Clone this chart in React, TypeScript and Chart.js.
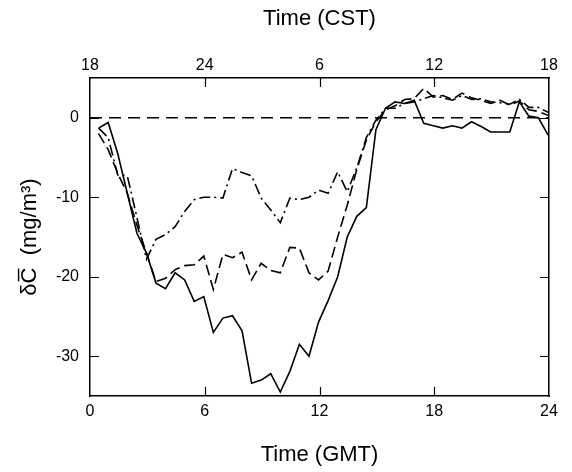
import React, { useEffect, useRef } from "react";
import { Chart, registerables } from "chart.js";

Chart.register(...registerables);

// Time (GMT, hours) of each sample
const times: number[] = [
  0.45, 0.95, 1.45, 1.95, 2.45, 2.95, 3.45, 3.95, 4.45, 4.95, 5.45, 5.95,
  6.45, 6.95, 7.45, 7.95, 8.45, 8.95, 9.45, 9.95, 10.45, 10.95, 11.45, 11.95,
  12.45, 12.95, 13.45, 13.95, 14.45, 14.95, 15.45, 15.95, 16.45, 16.95, 17.45, 17.95,
  18.45, 18.95, 19.45, 19.95, 20.45, 20.95, 21.45, 21.95, 22.45, 22.95, 23.45, 23.95,
];

const solidSeries: number[] = [
  -1.3, -0.6, -4.5, -9.5, -14.5, -17.0, -20.8, -21.5, -19.5, -20.4, -23.1, -22.5,
  -27.0, -25.2, -24.9, -26.8, -33.4, -33.0, -32.2, -34.5, -31.9, -28.5, -30.0, -25.7,
  -23.0, -20.0, -15.0, -12.4, -11.3, -1.5, 1.2, 2.0, 1.8, 2.2, -0.7, -1.0,
  -1.3, -1.0, -1.3, -0.5, -1.1, -1.8, -1.8, -1.8, 2.0, 0.2, 0.0, -2.2,
];

const dashedSeries: number[] = [
  -2.0, -4.0, -7.0, -9.5, -13.5, -17.0, -20.6, -20.2, -19.1, -18.6, -18.5, -17.4,
  -21.6, -17.2, -17.6, -16.9, -20.4, -18.3, -19.2, -19.5, -16.3, -16.4, -19.5, -20.4,
  -19.3, -15.0, -11.0, -6.5, -2.8, -0.5, 1.0, 1.5, 2.3, 2.4, 3.7, 2.6,
  2.8, 2.3, 3.1, 2.5, 2.2, 1.8, 2.2, 1.6, 2.1, 1.0, 0.8, 0.3,
];

const dashDotSeries: number[] = [
  -1.3, -2.5, -7.2, -7.3, -12.5, -17.8, -15.3, -14.7, -13.7, -11.8, -10.3, -10.0,
  -10.0, -10.1, -6.4, -6.9, -7.3, -10.1, -11.6, -13.2, -10.1, -10.3, -10.0, -9.1,
  -9.5, -6.8, -9.3, -6.3, -2.5, -0.3, 1.2, 1.2, 1.8, 2.0, 2.4, 2.8,
  2.5, 2.2, 2.8, 2.3, 2.4, 2.0, 1.9, 1.7, 2.3, 1.3, 1.3, 0.7,
];

const zeroLineX: number[] = [0, 24];
const zeroLineY: number[] = [0, 0];

const gmtTicks: number[] = [0, 6, 12, 18, 24];
const cstTickLabels: string[] = ["18", "24", "6", "12", "18"];
const yTicks: number[] = [-30, -20, -10, 0];

const FONT = "'Liberation Sans', Arial, Helvetica, sans-serif";

const toPoints = (xs: number[], ys: number[]) => xs.map((x, i) => ({ x, y: ys[i] }));

const inwardTicks = {
  id: "inwardTicks",
  afterDraw(chart: any) {
    const { ctx, chartArea } = chart;
    const xs = chart.scales.x;
    const ys = chart.scales.y;
    const len = 9;
    ctx.save();
    ctx.strokeStyle = "#000";
    ctx.lineWidth = 1.2;
    ctx.beginPath();
    gmtTicks.forEach((v) => {
      if (v <= xs.min || v >= xs.max) return;
      const px = Math.round(xs.getPixelForValue(v)) + 0.5;
      ctx.moveTo(px, chartArea.bottom);
      ctx.lineTo(px, chartArea.bottom - len);
      ctx.moveTo(px, chartArea.top);
      ctx.lineTo(px, chartArea.top + len);
    });
    yTicks.forEach((v) => {
      const py = Math.round(ys.getPixelForValue(v)) + 0.5;
      ctx.moveTo(chartArea.left, py);
      ctx.lineTo(chartArea.left + len, py);
      ctx.moveTo(chartArea.right, py);
      ctx.lineTo(chartArea.right - len, py);
    });
    ctx.stroke();
    ctx.restore();
  },
};

export default function App() {
  const ref = useRef<HTMLCanvasElement | null>(null);

  useEffect(() => {
    if (!ref.current) return;
    const border = { display: true, color: "#000", width: 1.5 };
    const tickFont = { family: FONT, size: 16 };
    const titleFont = { family: FONT, size: 22 };
    const chart = new Chart(ref.current, {
      type: "line",
      data: {
        datasets: [
          {
            data: toPoints(zeroLineX, zeroLineY),
            borderColor: "#000",
            borderWidth: 1.5,
            borderDash: [12, 7],
            pointRadius: 0,
            tension: 0,
          },
          {
            data: toPoints(times, solidSeries),
            borderColor: "#000",
            borderWidth: 1.6,
            pointRadius: 0,
            tension: 0,
          },
          {
            data: toPoints(times, dashedSeries),
            borderColor: "#000",
            borderWidth: 1.6,
            borderDash: [11, 5],
            pointRadius: 0,
            tension: 0,
          },
          {
            data: toPoints(times, dashDotSeries),
            borderColor: "#000",
            borderWidth: 1.6,
            borderDash: [11, 4, 2, 4],
            pointRadius: 0,
            tension: 0,
          },
        ],
      },
      options: {
        responsive: false,
        animation: false,
        devicePixelRatio: 1,
        layout: { padding: 0 },
        plugins: { legend: { display: false }, tooltip: { enabled: false } },
        scales: {
          x: {
            type: "linear",
            position: "bottom",
            min: 0,
            max: 24,
            afterBuildTicks: (s: any) => {
              s.ticks = gmtTicks.map((v) => ({ value: v }));
            },
            afterFit: (s: any) => {
              s.height = 76;
            },
            grid: { display: false, drawTicks: false },
            border,
            ticks: { color: "#000", font: tickFont, padding: 6, maxRotation: 0, autoSkip: false },
            title: {
              display: true,
              text: "Time (GMT)",
              color: "#000",
              font: titleFont,
              padding: { top: 0, bottom: 4 },
            },
          },
          x2: {
            type: "linear",
            position: "top",
            min: 0,
            max: 24,
            afterBuildTicks: (s: any) => {
              s.ticks = gmtTicks.map((v) => ({ value: v }));
            },
            afterFit: (s: any) => {
              s.height = 78;
            },
            grid: { display: false, drawTicks: false },
            border,
            ticks: {
              color: "#000",
              font: tickFont,
              padding: 3,
              maxRotation: 0,
              autoSkip: false,
              callback: (_v: any, i: number) => cstTickLabels[i],
            },
            title: {
              display: true,
              text: "Time (CST)",
              color: "#000",
              font: titleFont,
              padding: { top: 6, bottom: 0 },
            },
          },
          y: {
            type: "linear",
            position: "left",
            min: -35,
            max: 5,
            afterBuildTicks: (s: any) => {
              s.ticks = yTicks.map((v) => ({ value: v }));
            },
            afterFit: (s: any) => {
              s.width = 90;
            },
            grid: { display: false, drawTicks: false },
            border,
            ticks: { color: "#000", font: tickFont, padding: 11 },
            title: {
              display: true,
              text: "δC\u0305  (mg/m³)",
              color: "#000",
              font: titleFont,
              padding: { top: 17, bottom: 0 },
            },
          },
          y2: {
            type: "linear",
            position: "right",
            min: -35,
            max: 5,
            afterBuildTicks: (s: any) => {
              s.ticks = yTicks.map((v) => ({ value: v }));
            },
            afterFit: (s: any) => {
              s.width = 23;
            },
            grid: { display: false, drawTicks: false },
            border,
            ticks: { display: false },
          },
        },
      } as any,
      plugins: [inwardTicks],
    });
    return () => chart.destroy();
  }, []);

  return (
    <div style={{ position: "fixed", left: 0, top: 0, width: 572, height: 472, background: "#fff" }}>
      <canvas ref={ref} width={572} height={472} style={{ display: "block" }} />
    </div>
  );
}
